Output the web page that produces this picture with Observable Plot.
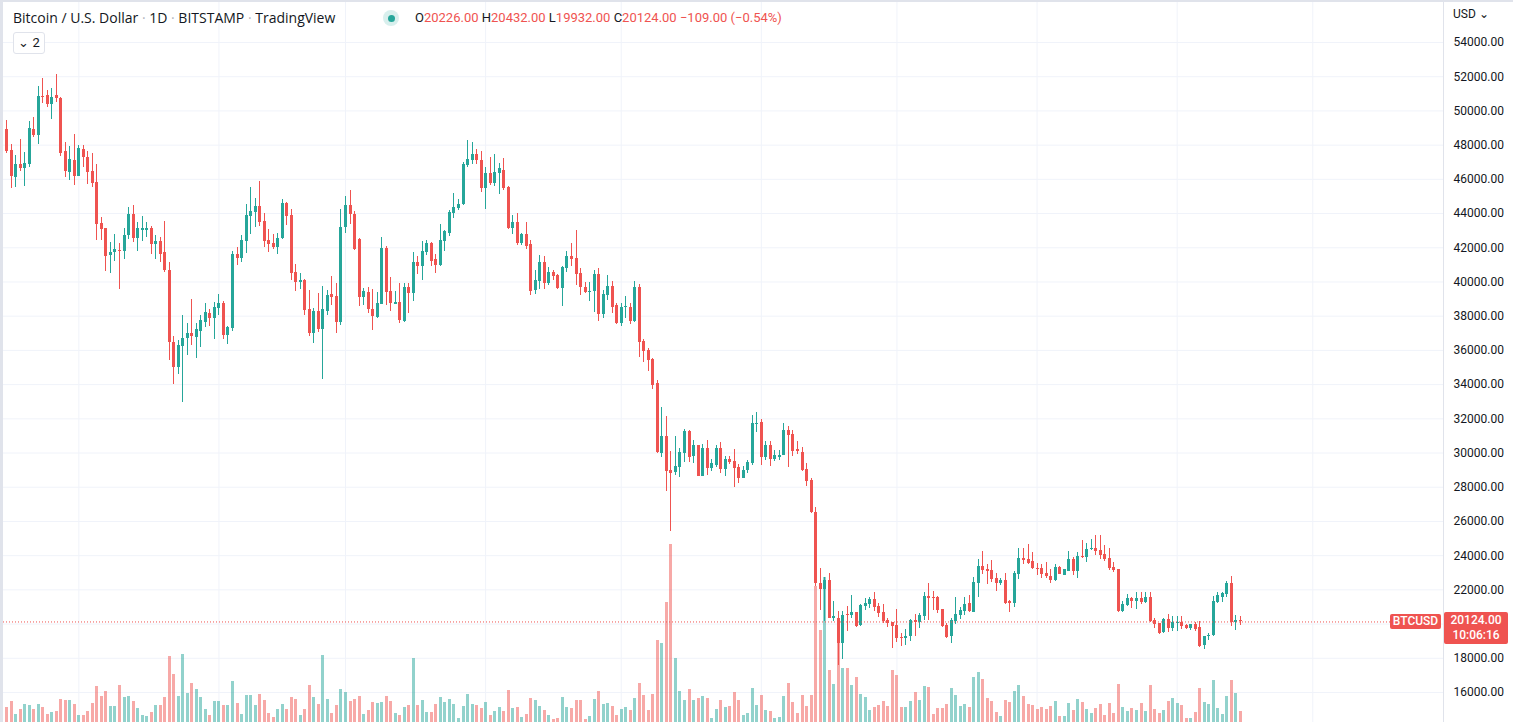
<!DOCTYPE html>
<html><head><meta charset="utf-8">
<script src="https://cdn.jsdelivr.net/npm/d3@7"></script>
<script src="https://cdn.jsdelivr.net/npm/@observablehq/plot@0.6"></script>
<style>
body{margin:0;background:#fff;font-family:Roboto,"Liberation Sans",sans-serif;}
#chart{position:relative;width:1513px;height:722px;overflow:hidden;background:#fff;}
#chart svg{position:absolute;left:0;top:0;}
.hdr{position:absolute;left:13px;top:8px;font-family:"Open Sans",Roboto,sans-serif;font-size:14px;color:#131722;white-space:nowrap;}
.sep{color:#b2b5be;}
.ohlc{position:absolute;left:415px;top:10px;font-size:13px;color:#131722;white-space:nowrap;}
.ohlc .v{color:#ef5350;}
.dot{position:absolute;left:383px;top:10px;width:16px;height:16px;border-radius:50%;background:rgba(38,166,154,0.18);}
.dot::after{content:"";position:absolute;left:4.5px;top:4.5px;width:7px;height:7px;border-radius:50%;background:#26a69a;}
.btn{position:absolute;left:13px;top:32px;width:30px;height:20px;border:1px solid #e0e3eb;border-radius:3px;background:#fff;font-size:13px;color:#131722;line-height:20px;text-align:center;}
.usd{position:absolute;left:1453px;top:7px;font-size:12px;color:#131722;}
.lbl{position:absolute;background:#ef5350;color:#fff;font-size:12px;border-radius:2px;text-align:center;}
.edgeL{position:absolute;left:0;top:0;width:3px;height:722px;background:#e0e3eb;}
.edgeT{position:absolute;left:0;top:0;width:1513px;height:2px;background:#e0e3eb;}
</style></head>
<body><div id="chart"></div>
<script>
// ---- data: daily BTC/USD (Bitstamp), 16 Dec 2021 - 15 Sep 2022 ----
const startDate = "2021-12-16";
const endDateExclusive = "2022-09-16";
const open = [
48910,47690,46130,46870,46650,46870,48910,48560,50840,50900,
50400,50900,50730,47630,46420,47100,46180,47740,47280,46460,
45810,43420,43120,41540,41720,41840,41800,42710,43940,42560,
43010,43010,43120,42190,42360,41720,40670,36450,34990,36220,
36690,36980,36750,37100,37620,38150,37880,38470,38760,36890,
37280,41600,41390,42380,43850,44080,44410,43530,42420,42250,
42030,42560,44590,43880,40550,39990,40080,38390,37000,38270,
37220,38270,39270,39170,37650,43180,44470,43960,42500,39110,
39380,38390,37940,38700,41960,39440,38700,38800,37710,39670,
39300,41140,40920,41720,42250,41310,40980,42360,42830,44000,
44290,44530,46810,47100,47450,47100,45460,46340,45760,46340,
46520,45520,43120,43480,42250,42770,42190,39500,40030,41140,
39910,40550,40380,39620,40790,41490,41370,40490,39670,39380,
39440,40430,38100,39210,39730,38620,37570,38510,38520,37690,
39670,36520,35990,35460,34060,29990,30960,28970,28880,29170,
29990,31250,29810,30440,28640,30260,29110,29290,30260,29050,
29640,29520,29170,28530,28990,29400,31640,31800,29750,30460,
29640,29750,29870,31310,31100,30220,30050,29050,28410,26540,
22380,22010,22540,20340,20340,18870,20550,20490,20670,19910,
21020,21140,21430,21020,20670,20200,20080,19910,19210,19150,
19260,20200,20080,20430,21600,21540,21540,20840,19910,19260,
20140,20490,20730,21190,20670,22360,23360,23180,23120,22660,
22360,22540,21310,21190,22890,23830,23770,23650,23260,23240,
22950,22770,22540,23300,22850,23080,23770,23080,23940,23880,
24350,24410,24290,24060,23830,23300,23180,20730,21080,21490,
21310,21490,21250,21550,20200,20020,19500,20260,19730,20040,
20080,19910,19730,19970,19790,18740,19260,19320,21250,21550,
21720,22360,20080,20226];
const high = [
49440,48040,47390,48330,47570,49380,49620,51430,51900,51200,
51310,52130,50800,48150,47920,48620,47980,47980,47630,47510,
46870,43770,43150,42300,42770,42240,43120,44350,44470,43470,
43820,43470,43240,42710,42600,43530,41130,36800,36570,38030,
37570,38970,37570,38030,38740,38380,38780,39270,38860,37390,
41800,42030,42720,44530,45520,44880,45870,44000,43070,42770,
42830,44820,44650,44240,41020,40490,40140,39500,38450,39320,
39750,39500,40320,39910,44240,45000,45350,44120,42560,39640,
39670,39580,39380,42600,42090,40280,39440,39910,39910,39910,
41720,41490,42360,42420,42310,41600,43360,43010,44180,45170,
44820,46980,48270,48150,47740,47630,46690,47280,47450,46930,
47220,45580,43880,44000,42830,43480,42420,40670,41550,41490,
40840,40670,40430,40900,41780,42250,43010,40790,39970,39970,
40670,40790,39500,40380,40030,38740,38740,39150,38740,40030,
39850,36630,36110,35500,34240,32660,32130,30080,30960,30260,
31370,31310,30730,30460,30490,30730,29640,30440,30610,29810,
29810,30220,29340,29230,29580,32210,32380,31980,30690,30690,
30160,30160,31740,31550,31310,30690,30340,29400,28530,26830,
23240,22710,22950,21310,20730,20730,21020,21660,20700,21120,
21490,21540,21840,21190,21140,20320,20120,20840,19440,19670,
20260,20550,20610,21840,22360,21900,21600,20880,20020,20320,
21540,20960,21540,21660,22710,23770,24230,23470,23710,22950,
22660,22950,21350,23060,24410,24410,24640,24180,23530,23470,
23590,23180,23470,23350,23220,24230,23900,24180,24880,24700,
24940,25190,25170,24590,24430,23590,23220,21310,21720,21550,
21840,21840,21840,21840,20320,20060,20320,20550,20430,20430,
20430,19970,19990,20080,20140,19300,19440,21600,21840,21840,
22480,22770,20490,20432];
const low = [
47530,45480,45540,46480,45580,46710,48450,48040,50450,50220,
49500,50510,47350,46130,45950,45660,46150,46710,45720,45540,
42420,42420,40610,40510,41190,39570,41310,42480,42300,41780,
42360,42600,41600,41310,41130,40550,35400,34000,34580,32940,
35690,36280,35520,36160,37330,37390,36630,38040,36630,36320,
37080,40980,41160,41680,42750,43200,43260,42030,41740,41920,
41620,42500,43320,40080,39460,39580,38040,36830,36380,37040,
34310,38040,38620,37000,37450,42850,43360,41860,38580,38640,
38150,37160,37880,38680,38620,38270,38680,37570,37630,38150,
38880,40450,40100,41550,40900,40490,40920,41800,42660,43710,
44180,44470,46690,46870,46870,45230,44240,45640,45580,45110,
45350,43070,42770,42130,42130,41900,39210,39270,39560,39560,
39790,40080,39560,38560,40550,40900,39790,39210,39320,38860,
38210,37690,37860,38910,38150,37540,37390,37840,37510,37660,
35600,35310,34780,33730,30000,29750,27770,25430,28700,28580,
29460,29460,29400,28600,28600,28700,28930,29170,28820,28640,
29340,28000,28230,28500,28820,29290,31220,29290,29580,29230,
29520,29580,29850,29170,29810,29930,28930,28060,26480,22200,
20780,20150,20300,20140,17570,17940,19560,20320,19790,19850,
20780,20900,20730,20370,20020,19790,18560,18910,18680,18740,
18970,19260,19730,20200,20200,20780,20610,19800,19150,18850,
19970,20260,20490,20700,20670,21540,22890,22300,22420,21900,
22250,21150,20670,20960,22600,23470,23470,23200,22850,22660,
22660,22360,22500,22880,22820,23050,22850,22660,23830,23590,
24290,24000,23770,23650,23120,23010,20700,20700,21020,20930,
20840,21140,21220,20080,19730,19420,19470,19500,19560,19560,
19680,19670,19620,19560,18620,18500,19030,19300,21220,21250,
21550,19850,19620,19932];
const close = [
47650,46180,46870,46650,46930,48970,48560,50840,50800,50400,
50790,50710,47530,46480,47160,46180,47800,47300,46420,45770,
43380,43060,41500,41720,41890,41800,42710,43940,42560,43120,
43120,43120,42190,42360,41600,40670,36450,34990,36280,36690,
36980,36800,37210,37740,38210,37860,38520,38740,36890,37340,
41600,41390,42420,43880,44120,44410,43490,42380,42210,42030,
42560,44590,43850,40510,39990,40080,38330,37000,38270,37220,
38390,39210,39110,37650,43180,44470,43920,41880,39110,39440,
38390,38000,38740,41960,39380,38720,38800,37750,39670,39300,
41140,40920,41780,42250,41210,40980,42420,42950,44060,44350,
44530,46870,47160,47450,47100,45460,46340,45760,46400,46630,
45460,43120,43480,42250,42770,42070,39440,40080,41140,39910,
40550,40320,39620,40840,41490,41310,40430,39670,39380,39440,
40430,38100,39270,39730,38510,37570,38510,38540,37690,39670,
36480,35950,35420,33960,30050,30960,28930,28820,29210,30030,
31250,29750,30440,28640,30260,29110,29400,30260,29050,29640,
29460,29110,28530,28990,29460,31740,31740,29750,30460,29640,
29870,29870,31310,31040,30100,30100,28990,28350,26540,22380,
22010,22540,20340,20430,18870,20490,20490,20670,19850,21080,
21190,21430,20960,20610,20140,20020,19850,19150,19180,19260,
20200,20080,20490,21600,21490,21490,20780,19850,19200,20200,
20550,20780,21140,20730,22420,23360,23120,23060,22600,22360,
22540,21190,21190,22950,23830,23710,23530,23260,23220,22910,
22770,22540,23300,22910,23180,23770,23080,23940,23900,24350,
24410,24230,24000,23770,23240,23120,20730,21140,21490,21310,
21490,21250,21550,20140,19970,19440,20260,19730,20080,20120,
19850,19730,19970,19670,18680,19260,19320,21310,21660,21780,
22360,20080,20233,20124];
// volume, in hundreds of BTC
const volume = [
15,21,8,13,18,17,13,18,15,8, 10,11,23,22,22,18,7,7,11,19,
36,26,31,16,16,37,25,26,21,14, 7,6,10,17,17,25,66,48,26,68,
29,39,33,25,13,7,21,21,17,17, 41,19,8,27,27,17,28,22,9,5,
13,18,13,25,23,7,13,37,25,18, 67,23,9,17,33,30,21,23,26,8,
12,20,19,20,26,21,9,7,15,17, 64,17,22,10,10,18,25,20,23,18,
4,16,28,18,17,14,20,7,11,15, 11,32,14,15,5,8,24,22,16,12,
7,3,4,25,15,14,22,22,3,6, 23,31,18,19,16,7,13,15,12,24,
39,27,12,28,82,79,120,178,64,31, 22,33,22,24,26,24,4,13,22,15,
16,30,22,7,9,34,17,27,12,11, 4,5,26,39,20,9,27,16,27,136,
92,145,52,38,80,54,54,37,45,28, 25,12,15,17,21,16,52,47,15,15,
21,30,22,36,35,8,14,14,18,34, 27,16,18,15,45,50,43,24,21,10,
6,22,20,31,37,26,18,17,13,15, 13,16,21,6,6,19,12,23,20,13,
9,14,18,7,19,9,38,15,11,14, 12,19,11,37,13,9,12,21,24,19,
17,4,4,10,34,20,18,42,14,8, 26,42,29,11];
const priceTicks = d3.range(16000, 54001, 2000);
const monthStarts = ["2022-01-01","2022-02-01","2022-03-01","2022-04-01","2022-05-01","2022-06-01","2022-07-01","2022-08-01","2022-09-01","2022-10-01"].map(d => new Date(d));
const lastTimer = "10:06:16";

// ---- build table ----
const dates = d3.utcDays(new Date(startDate), new Date(endDateExclusive));
const candles = dates.map((date, i) => ({date, open: open[i], high: high[i], low: low[i], close: close[i], volume: volume[i], up: close[i] >= open[i]}));
const last = candles[candles.length - 1], prev = candles[candles.length - 2];

// ---- layout ----
const W = 1513, H = 722, PANE_RIGHT = 1443;
const FIRST_X = 6, PX_PER_DAY = 4.52;
const DAY = 864e5;
const t0 = +dates[0];
const xDomain = [new Date(t0 - FIRST_X / PX_PER_DAY * DAY), new Date(t0 + (PANE_RIGHT - FIRST_X) / PX_PER_DAY * DAY)];
const UP = "#26a69a", DOWN = "#ef5350";
const xOpt = {type: "utc", domain: xDomain, axis: null};
const yPrice = {domain: [16000, 54000], range: [692, 42], axis: null};
const common = {width: W, height: H, marginLeft: 0, marginRight: W - PANE_RIGHT, marginTop: 0, marginBottom: 0,
  style: {background: "transparent", fontFamily: "Roboto, 'Liberation Sans', sans-serif", overflow: "visible"}};
// axis labels hidden behind the last-price label (as in the reference)
const pxPerPrice = (692 - 42) / (54000 - 16000);
const labelTicks = priceTicks.filter(t => Math.abs(t - last.close) * pxPerPrice > 18);

const grid = Plot.plot({...common, x: xOpt, y: yPrice, marks: [
  Plot.ruleY(priceTicks, {stroke: "#f0f3fa", strokeWidth: 1}),
  Plot.ruleX(monthStarts, {stroke: "#f0f3fa", strokeWidth: 1}),
  Plot.ruleX([xDomain[1]], {stroke: "#e0e3eb", strokeWidth: 1}),
  Plot.axisY(labelTicks, {anchor: "right", tickSize: 0, tickPadding: 10, tickFormat: d => d.toFixed(2), fontSize: 12, fill: "#131722", label: null})
]});

const vol = Plot.plot({...common, x: xOpt, y: {domain: [0, 178], range: [722, 544], axis: null}, marks: [
  Plot.ruleX(candles, {x: "date", y1: 0, y2: "volume", stroke: d => d.up ? UP : DOWN, strokeOpacity: 0.5, strokeWidth: 3, shapeRendering: "crispEdges"})
]});

const price = Plot.plot({...common, x: xOpt, y: yPrice, marks: [
  Plot.ruleX(candles, {x: "date", y1: "low", y2: "high", stroke: d => d.up ? UP : DOWN, strokeWidth: 1, shapeRendering: "crispEdges"}),
  Plot.ruleX(candles, {x: "date", y1: "open", y2: "close", stroke: d => d.up ? UP : DOWN, strokeWidth: 3, shapeRendering: "crispEdges"}),
  Plot.ruleY([last.close], {stroke: DOWN, strokeDasharray: "1,2", strokeWidth: 1})
]});

const chart = document.getElementById("chart");
chart.append(grid, vol, price);

// ---- header & labels ----
const chg = last.close - prev.close, pct = chg / prev.close * 100;
const fmt = v => v.toFixed(2);
const minus = v => (v < 0 ? "\u2212" : "+") + Math.abs(v).toFixed(2);
const add = html => chart.insertAdjacentHTML("beforeend", html);
add(`<div class="edgeL"></div><div class="edgeT"></div>`);
add(`<div class="hdr">Bitcoin / U.S. Dollar <span class="sep">·</span> 1D <span class="sep">·</span> BITSTAMP <span class="sep">·</span> TradingView</div>`);
add(`<div class="dot"></div>`);
add(`<div class="ohlc">O<span class="v">${fmt(last.open)}</span> H<span class="v">${fmt(last.high)}</span> L<span class="v">${fmt(last.low)}</span> C<span class="v">${fmt(last.close)}</span> <span class="v">${minus(chg)} (${minus(pct)}%)</span></div>`);
add(`<div class="btn">&#8964; 2</div>`);
add(`<div class="usd">USD &#8964;</div>`);
const yp = price.scale("y").apply(last.close);
add(`<div class="lbl" style="left:1390px;top:${yp - 7}px;width:51px;height:15px;line-height:15px;font-weight:500">BTCUSD</div>`);
add(`<div class="lbl" style="left:1444px;top:${yp - 9}px;width:64px;height:32px;line-height:15px;padding-top:1px;box-sizing:border-box;font-weight:500">${fmt(last.close)}<br>${lastTimer}</div>`);
</script></body></html>
